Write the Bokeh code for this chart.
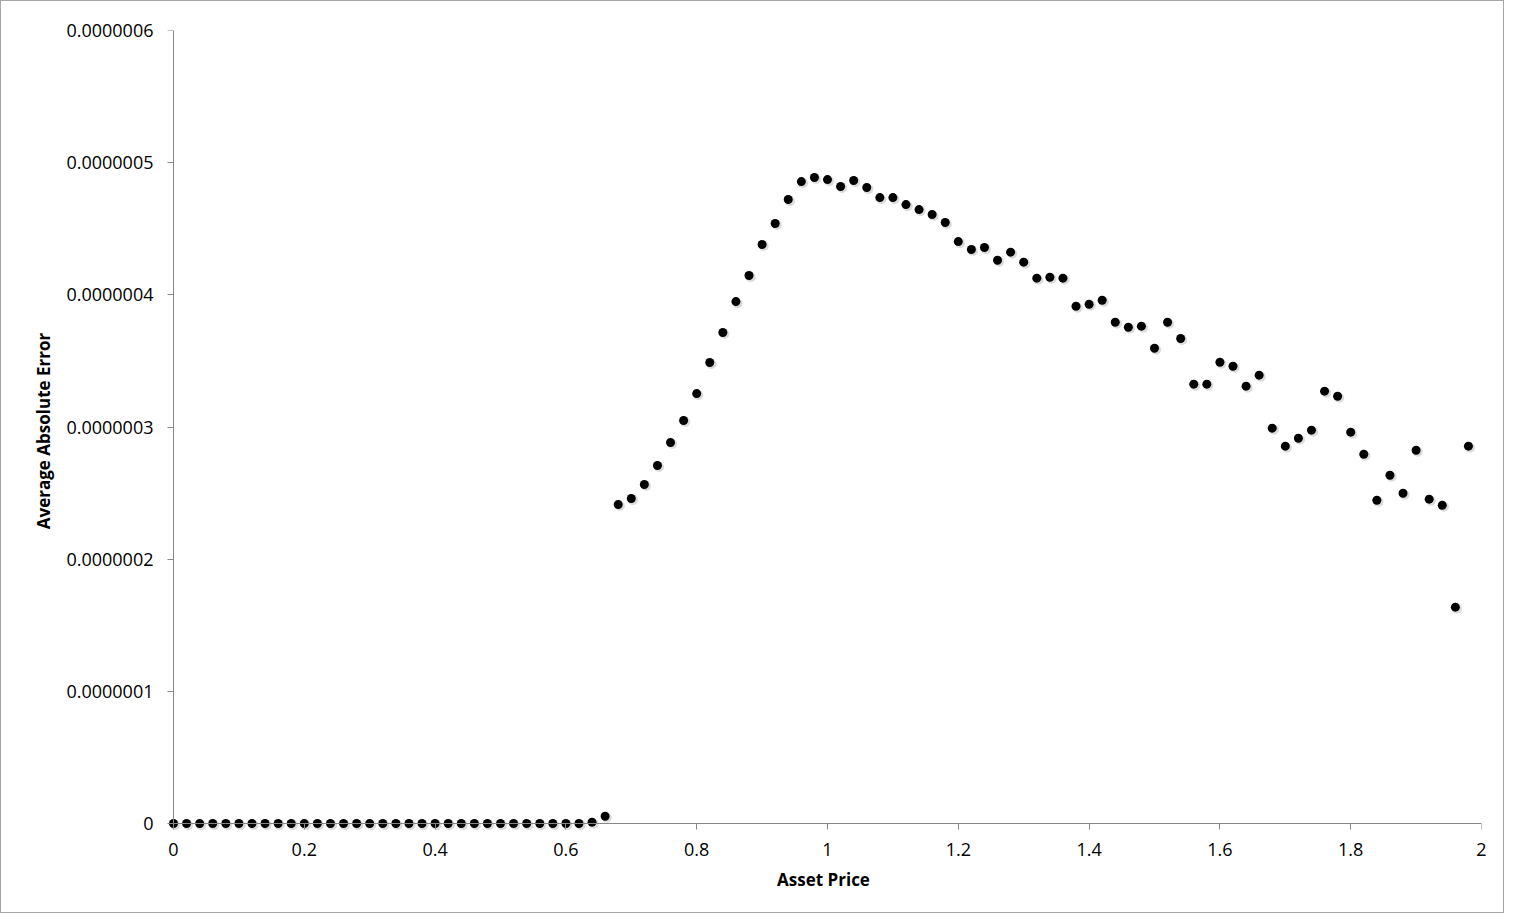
from bokeh.plotting import figure
from bokeh.models import Range1d, FixedTicker, ColumnDataSource, LinearAxis
from bokeh.transform import dodge
from bokeh.embed import file_html
from bokeh.resources import INLINE

asset_price = [round(0.02 * i, 2) for i in range(100)]
avg_abs_error = (
    [0.0] * 32
    + [0.01e-7, 0.055e-7,
       2.414e-7, 2.459e-7, 2.565e-7, 2.709e-7, 2.883e-7, 3.049e-7, 3.253e-7, 3.488e-7,
       3.715e-7, 3.949e-7, 4.146e-7, 4.381e-7, 4.540e-7, 4.721e-7, 4.857e-7, 4.888e-7,
       4.872e-7, 4.820e-7, 4.865e-7, 4.812e-7, 4.736e-7, 4.736e-7, 4.683e-7, 4.645e-7,
       4.608e-7, 4.547e-7, 4.403e-7, 4.343e-7, 4.358e-7, 4.262e-7, 4.323e-7, 4.247e-7,
       4.126e-7, 4.133e-7, 4.126e-7, 3.914e-7, 3.929e-7, 3.959e-7, 3.793e-7, 3.755e-7,
       3.763e-7, 3.596e-7, 3.793e-7, 3.670e-7, 3.324e-7, 3.324e-7, 3.490e-7, 3.460e-7,
       3.309e-7, 3.392e-7, 2.991e-7, 2.855e-7, 2.915e-7, 2.976e-7, 3.271e-7, 3.233e-7,
       2.961e-7, 2.794e-7, 2.446e-7, 2.635e-7, 2.499e-7, 2.824e-7, 2.454e-7, 2.408e-7,
       1.637e-7, 2.855e-7]
)

x_ticks = [0, 0.2, 0.4, 0.6, 0.8, 1.0, 1.2, 1.4, 1.6, 1.8, 2.0]
x_tick_labels = ["0", "0.2", "0.4", "0.6", "0.8", "1", "1.2", "1.4", "1.6", "1.8", "2"]
y_ticks = [0, 1e-7, 2e-7, 3e-7, 4e-7, 5e-7, 6e-7]
y_tick_labels = ["0", "0.0000001", "0.0000002", "0.0000003", "0.0000004", "0.0000005", "0.0000006"]

src = ColumnDataSource(dict(x=asset_price, y=avg_abs_error))

W, H = 1504, 913
p = figure(width=W, height=H, output_backend="svg", toolbar_location=None,
           x_range=Range1d(-0.0122, 2.0), y_range=Range1d(-0.0605e-7, 6e-7),
           min_border_left=164, min_border_right=W - 1480, min_border_top=29,
           min_border_bottom=H - 830)
p.styles = {"border": "1px solid #a6a6a6"}
p.outline_line_color = None
p.grid.grid_line_color = None
p.background_fill_color = "white"
p.border_fill_color = "white"

font = "Open Sans"
axis_gray = "#868686"

# label-only axes in the side panels
for ax, ticks, labels in ((p.xaxis[0], x_ticks, x_tick_labels), (p.yaxis[0], y_ticks, y_tick_labels)):
    ax.ticker = FixedTicker(ticks=ticks)
    ax.major_label_overrides = {t: l for t, l in zip(ticks, labels)}
    ax.axis_line_color = None
    ax.major_tick_line_color = None
    ax.major_tick_in = 0
    ax.major_tick_out = 0
    ax.minor_tick_line_color = None
    ax.minor_tick_in = 0
    ax.minor_tick_out = 0
    ax.major_label_text_font = font
    ax.major_label_text_font_size = "18px"
    ax.major_label_text_color = "black"
    ax.axis_label_text_font = font
    ax.axis_label_text_font_style = "bold"
    ax.axis_label_text_font_size = "17px"
    ax.axis_label_text_color = "black"

p.xaxis[0].axis_label = "Asset Price"
p.yaxis[0].axis_label = "Average Absolute Error"
p.xaxis[0].major_label_standoff = 11
p.yaxis[0].major_label_standoff = 12
p.xaxis[0].axis_label_standoff = 9
p.yaxis[0].axis_label_standoff = 8

# axis lines and ticks, placed at zero
xline = LinearAxis(ticker=FixedTicker(ticks=x_ticks), bounds=(0, 2))
yline = LinearAxis(ticker=FixedTicker(ticks=y_ticks), bounds=(0, 6e-7))
for ax in (xline, yline):
    ax.axis_line_color = axis_gray
    ax.major_tick_line_color = axis_gray
    ax.major_tick_in = 0
    ax.major_tick_out = 6
    ax.minor_tick_line_color = None
    ax.major_label_text_font_size = "0px"
    ax.major_label_text_color = None
p.add_layout(xline, "below")
p.add_layout(yline, "left")
xline.fixed_location = 0
yline.fixed_location = 0

# marker shadow + markers
p.scatter(x=dodge("x", 0.0025, range=p.x_range), y=dodge("y", -0.012e-7, range=p.y_range),
          source=src, size=10, fill_color="#888888", fill_alpha=0.3, line_color=None)
p.scatter(x="x", y="y", source=src, size=9, fill_color="black", line_color=None)

open("out.html", "w").write(file_html(p, INLINE))
